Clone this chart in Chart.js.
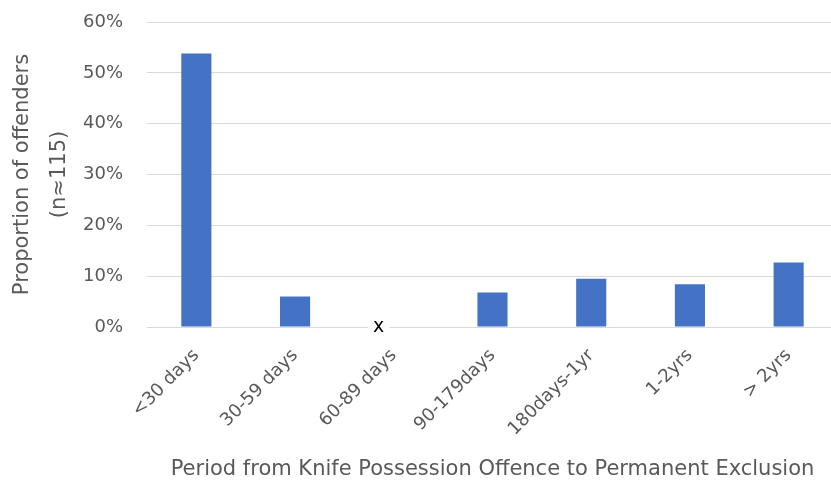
<!DOCTYPE html>
<html>
<head>
<meta charset="utf-8">
<script src="https://cdn.jsdelivr.net/npm/chart.js@4/dist/chart.umd.min.js"></script>
<style>
  html, body { margin: 0; padding: 0; background: #ffffff; overflow: hidden; }
  #wrap { width: 840px; height: 486px; position: relative; }
</style>
</head>
<body>
<div id="wrap"><canvas id="chart"></canvas></div>
<script>
// Period between knife possession offence and permanent exclusion
const categories = ['<30 days', '30-59 days', '60-89 days', '90-179days', '180days-1yr', '1-2yrs', '> 2yrs'];
// Proportion of offenders (%) per period; null = suppressed / no value (shown as "x")
const proportions = [53.8, 6.0, null, 6.8, 9.5, 8.4, 12.7];
const yTicks = [0, 10, 20, 30, 40, 50, 60];

const FONT = '"DejaVu Sans", "Open Sans", sans-serif';
const GREY = '#595959';

// Marks suppressed values with an "x" on the baseline
const suppressedMarker = {
  id: 'suppressedMarker',
  afterDatasetsDraw(chart) {
    const ctx = chart.ctx;
    const xs = chart.scales.x, ys = chart.scales.y;
    chart.data.datasets[0].data.forEach((v, i) => {
      if (v !== null) return;
      const slot = (xs.getPixelForValue(1) - xs.getPixelForValue(0));
      const bw = slot * 0.305;
      const cx = xs.getPixelForValue(i) - bw / 2;
      const cy = ys.getPixelForValue(0);
      ctx.save();
      ctx.fillStyle = '#ffffff';
      ctx.fillRect(cx - 11, cy - 4, 22, 8);
      ctx.fillStyle = '#000000';
      ctx.font = '19px ' + FONT;
      ctx.textAlign = 'center';
      ctx.textBaseline = 'middle';
      ctx.fillText('x', cx, cy);
      ctx.restore();
    });
  }
};

new Chart(document.getElementById('chart'), {
  type: 'bar',
  data: {
    labels: categories,
    datasets: [{
      data: proportions,
      backgroundColor: '#4472C4',
      borderWidth: 0,
      categoryPercentage: 1.0,
      barPercentage: 0.305
    }]
  },
  options: {
    responsive: true,
    maintainAspectRatio: false,
    animation: false,
    layout: { padding: { top: 22, right: 2, left: 0, bottom: 0 } },
    plugins: {
      legend: { display: false },
      tooltip: { enabled: false }
    },
    scales: {
      x: {
        grid: { display: false, drawTicks: false },
        border: { display: true, color: '#d9d9d9', width: 1 },
        ticks: {
          color: GREY,
          font: { family: FONT, size: 18 },
          minRotation: 45,
          maxRotation: 45,
          padding: 18
        },
        title: {
          display: true,
          text: 'Period from Knife Possession Offence to Permanent Exclusion',
          color: GREY,
          font: { family: FONT, size: 21 },
          padding: { top: 0, bottom: 4 }
        },
        afterFit(scale) { scale.height = 159; }
      },
      y: {
        min: 0,
        max: 60,
        afterBuildTicks(scale) { scale.ticks = yTicks.map(v => ({ value: v })); },
        grid: { color: '#d9d9d9', lineWidth: 1, drawTicks: false },
        border: { display: false },
        ticks: {
          color: GREY,
          font: { family: FONT, size: 18 },
          padding: 24,
          callback: v => v + '%'
        },
        title: {
          display: true,
          text: ['Proportion of offenders', '(n\u2248115)'],
          color: GREY,
          font: { family: FONT, size: 21, lineHeight: 1.76 },
          padding: { top: 4, bottom: 0 }
        },
        afterFit(scale) {
          scale.width = 147;
          scale.paddingTop = 0;
          scale.paddingBottom = 0;
        }
      }
    }
  },
  plugins: [suppressedMarker]
});
</script>
</body>
</html>
